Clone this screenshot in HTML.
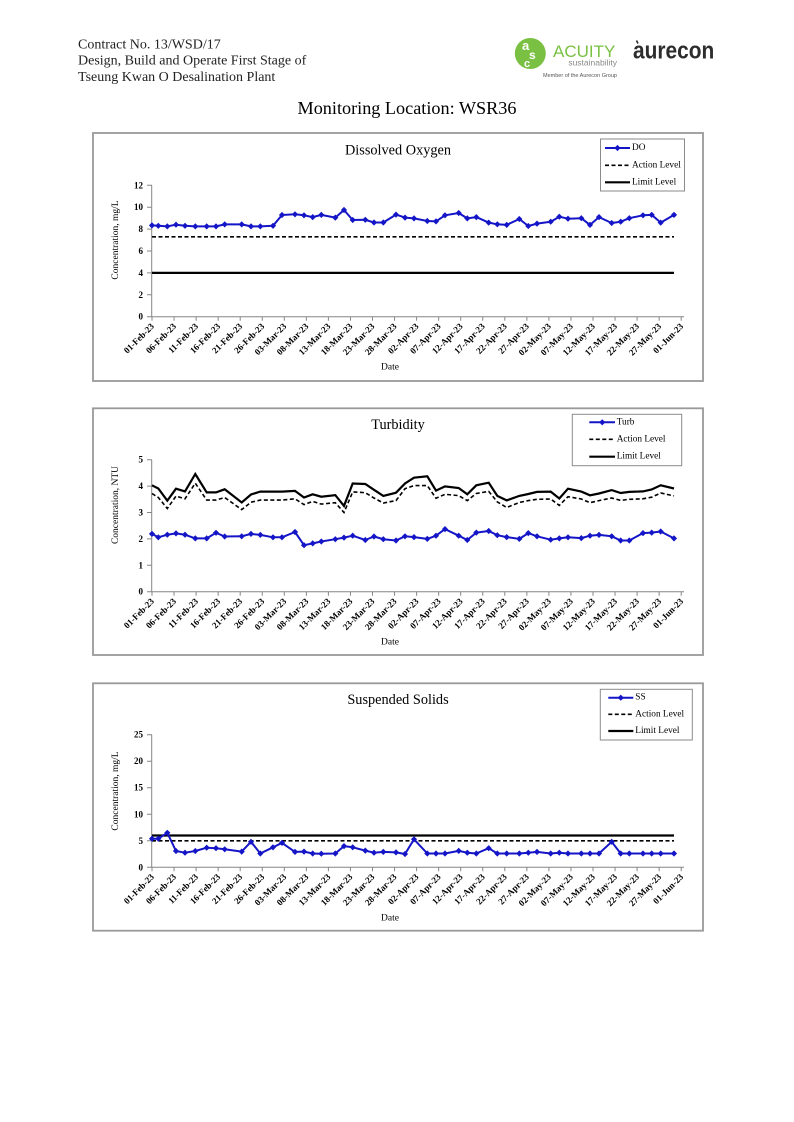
<!DOCTYPE html>
<html>
<head>
<meta charset="utf-8">
<style>
html,body{margin:0;padding:0;background:#fff;}
svg{display:block;}
text{font-family:"Liberation Serif",serif;fill:#000;}
.hd{font-size:14px;fill:#222;}
.xl{font-size:9px;font-weight:bold;}
.yl{font-size:9px;font-weight:bold;}
.lg{font-size:9.3px;}
.ti{font-size:14.3px;}
.at{font-size:9.5px;}
.ax{fill:none;stroke:#868686;stroke-width:1;}
.bx{fill:#fff;stroke:#999;stroke-width:1.8;}
.lb{fill:#fff;stroke:#8a8a8a;stroke-width:1;}
.ser{fill:none;stroke:#1515c8;stroke-width:2;stroke-linejoin:round;marker-start:url(#dm);marker-mid:url(#dm);marker-end:url(#dm);}
.act{fill:none;stroke:#000;stroke-width:1.6;stroke-dasharray:4 2.5;}
.lim{fill:none;stroke:#000;stroke-width:2.2;}
</style>
</head>
<body>
<svg width="794" height="1122" viewBox="0 0 794 1122" xmlns="http://www.w3.org/2000/svg">
<defs>
<marker id="dm" markerWidth="8" markerHeight="8" refX="4" refY="4" markerUnits="userSpaceOnUse"><path d="M4 0.9L7.1 4L4 7.1L0.9 4Z" fill="#1515c8"/></marker>
</defs>
<rect width="794" height="1122" fill="#fff"/>

<!-- Header -->
<text class="hd" x="78" y="48.5">Contract No. 13/WSD/17</text>
<text class="hd" x="78" y="64.5">Design, Build and Operate First Stage of</text>
<text class="hd" x="78" y="81">Tseung Kwan O Desalination Plant</text>

<circle cx="530.3" cy="53.5" r="15.5" fill="#7ac143"/>
<text x="522" y="50" style="font-family:'Liberation Sans',sans-serif;font-size:13px;font-weight:bold;fill:#fff">a</text>
<text x="529" y="59" style="font-family:'Liberation Sans',sans-serif;font-size:12px;font-weight:bold;fill:#fff">s</text>
<text x="524" y="67" style="font-family:'Liberation Sans',sans-serif;font-size:11px;font-weight:bold;fill:#fff">c</text>
<text x="553" y="57" style="font-family:'Liberation Sans',sans-serif;font-size:17px;fill:#7ac143">ACUITY</text>
<text x="617" y="65.5" text-anchor="end" style="font-family:'Liberation Sans',sans-serif;font-size:8.5px;fill:#8a8a8a">sustainability</text>
<text x="543" y="77" style="font-family:'Liberation Sans',sans-serif;font-size:5.5px;fill:#555">Member of the Aurecon Group</text>
<text transform="translate(633,58.5) scale(0.87,1)" style="font-family:'Liberation Sans',sans-serif;font-size:24px;font-weight:bold;fill:#2d2d2d">aurecon</text>
<path d="M636.5 40.5l1.5 3" stroke="#2d2d2d" stroke-width="1.6"/>

<text x="407" y="114" text-anchor="middle" style="font-size:18.2px">Monitoring Location: WSR36</text>

<!-- ================= Chart 1: Dissolved Oxygen ================= -->
<rect class="bx" x="93" y="133" width="610" height="248"/>
<text class="ti" x="398" y="154.5" text-anchor="middle">Dissolved Oxygen</text>
<path class="ax" d="M151.7 185.3V316.7H684"/>
<path class="ax" d="M147 316.7h5M147 294.8h5M147 272.9h5M147 251h5M147 229.1h5M147 207.2h5M147 185.3h5"/>
<path class="ax" d="M152 316.7v4M174.05 316.7v4M196.1 316.7v4M218.15 316.7v4M240.2 316.7v4M262.25 316.7v4M284.3 316.7v4M306.35 316.7v4M328.4 316.7v4M350.45 316.7v4M372.5 316.7v4M394.55 316.7v4M416.6 316.7v4M438.65 316.7v4M460.7 316.7v4M482.75 316.7v4M504.8 316.7v4M526.85 316.7v4M548.9 316.7v4M570.95 316.7v4M593 316.7v4M615.05 316.7v4M637.1 316.7v4M659.15 316.7v4M681.2 316.7v4"/>
<text class="yl" x="143" y="316.7" dominant-baseline="central" text-anchor="end">0</text>
<text class="yl" x="143" y="294.8" dominant-baseline="central" text-anchor="end">2</text>
<text class="yl" x="143" y="272.9" dominant-baseline="central" text-anchor="end">4</text>
<text class="yl" x="143" y="251" dominant-baseline="central" text-anchor="end">6</text>
<text class="yl" x="143" y="229.1" dominant-baseline="central" text-anchor="end">8</text>
<text class="yl" x="143" y="207.2" dominant-baseline="central" text-anchor="end">10</text>
<text class="yl" x="143" y="185.3" dominant-baseline="central" text-anchor="end">12</text>
<text class="at" transform="translate(116,240) rotate(-90)" text-anchor="middle" dominant-baseline="central">Concentration, mg/L</text>
<text class="at" x="390" y="369.5" text-anchor="middle">Date</text>
<g>
<text class="xl" text-anchor="end" dominant-baseline="central" transform="translate(152.5,324.7) rotate(-45)">01-Feb-23</text>
<text class="xl" text-anchor="end" dominant-baseline="central" transform="translate(174.6,324.7) rotate(-45)">06-Feb-23</text>
<text class="xl" text-anchor="end" dominant-baseline="central" transform="translate(196.6,324.7) rotate(-45)">11-Feb-23</text>
<text class="xl" text-anchor="end" dominant-baseline="central" transform="translate(218.7,324.7) rotate(-45)">16-Feb-23</text>
<text class="xl" text-anchor="end" dominant-baseline="central" transform="translate(240.7,324.7) rotate(-45)">21-Feb-23</text>
<text class="xl" text-anchor="end" dominant-baseline="central" transform="translate(262.8,324.7) rotate(-45)">26-Feb-23</text>
<text class="xl" text-anchor="end" dominant-baseline="central" transform="translate(284.8,324.7) rotate(-45)">03-Mar-23</text>
<text class="xl" text-anchor="end" dominant-baseline="central" transform="translate(306.9,324.7) rotate(-45)">08-Mar-23</text>
<text class="xl" text-anchor="end" dominant-baseline="central" transform="translate(328.9,324.7) rotate(-45)">13-Mar-23</text>
<text class="xl" text-anchor="end" dominant-baseline="central" transform="translate(351,324.7) rotate(-45)">18-Mar-23</text>
<text class="xl" text-anchor="end" dominant-baseline="central" transform="translate(373,324.7) rotate(-45)">23-Mar-23</text>
<text class="xl" text-anchor="end" dominant-baseline="central" transform="translate(395.1,324.7) rotate(-45)">28-Mar-23</text>
<text class="xl" text-anchor="end" dominant-baseline="central" transform="translate(417.1,324.7) rotate(-45)">02-Apr-23</text>
<text class="xl" text-anchor="end" dominant-baseline="central" transform="translate(439.2,324.7) rotate(-45)">07-Apr-23</text>
<text class="xl" text-anchor="end" dominant-baseline="central" transform="translate(461.2,324.7) rotate(-45)">12-Apr-23</text>
<text class="xl" text-anchor="end" dominant-baseline="central" transform="translate(483.3,324.7) rotate(-45)">17-Apr-23</text>
<text class="xl" text-anchor="end" dominant-baseline="central" transform="translate(505.3,324.7) rotate(-45)">22-Apr-23</text>
<text class="xl" text-anchor="end" dominant-baseline="central" transform="translate(527.4,324.7) rotate(-45)">27-Apr-23</text>
<text class="xl" text-anchor="end" dominant-baseline="central" transform="translate(549.4,324.7) rotate(-45)">02-May-23</text>
<text class="xl" text-anchor="end" dominant-baseline="central" transform="translate(571.5,324.7) rotate(-45)">07-May-23</text>
<text class="xl" text-anchor="end" dominant-baseline="central" transform="translate(593.5,324.7) rotate(-45)">12-May-23</text>
<text class="xl" text-anchor="end" dominant-baseline="central" transform="translate(615.6,324.7) rotate(-45)">17-May-23</text>
<text class="xl" text-anchor="end" dominant-baseline="central" transform="translate(637.6,324.7) rotate(-45)">22-May-23</text>
<text class="xl" text-anchor="end" dominant-baseline="central" transform="translate(659.7,324.7) rotate(-45)">27-May-23</text>
<text class="xl" text-anchor="end" dominant-baseline="central" transform="translate(681.7,324.7) rotate(-45)">01-Jun-23</text>
</g>
<path class="lim" d="M152 272.9H674"/>
<path class="act" d="M152 236.8H674"/>
<polyline class="ser" points="152,225.4 158.3,225.8 167.3,226.4 176,224.7 185,225.8 195.3,226.4 206.7,226.4 216,226.4 224.7,224.4 241.7,224.4 251,226.4 260.3,226.4 273,225.8 282,215.0 295,214.3 304,215.3 312.7,217.1 321.3,214.9 335.3,217.6 344,210.0 352.7,220.0 365.3,219.8 374,222.5 383.3,222.5 396,214.6 405,217.6 414,218.4 427.3,221.0 436,221.4 445,215.3 458.7,213.0 467.3,218.4 476.3,217.1 488.7,222.6 497.3,224.3 506.7,224.9 519.3,219.0 528.3,226.0 537,223.6 550.7,221.7 559.3,216.7 568,218.7 581.3,218.2 590,224.9 599,217.1 611.7,223.0 620.7,221.7 629.3,218.2 643,215.3 651.7,214.9 660.7,222.6 674,214.9"/>
<rect class="lb" x="600.5" y="139" width="84" height="52"/>
<polyline points="605,148 617.5,148 630,148" style="fill:none;stroke:#1515c8;stroke-width:2;marker-mid:url(#dm)"/>
<path class="act" d="M605 165.3H630"/>
<path class="lim" d="M605 182.3H630"/>
<text class="lg" x="632" y="148" dominant-baseline="central">DO</text>
<text class="lg" x="632" y="165.3" dominant-baseline="central">Action Level</text>
<text class="lg" x="632" y="182.3" dominant-baseline="central">Limit Level</text>

<!-- ================= Chart 2: Turbidity ================= -->
<rect class="bx" x="93" y="408.3" width="610" height="246.7"/>
<text class="ti" x="398" y="429" text-anchor="middle">Turbidity</text>
<path class="ax" d="M151.7 459.7V591.7H684"/>
<path class="ax" d="M147 591.7h5M147 565.3h5M147 538.9h5M147 512.5h5M147 486.1h5M147 459.7h5"/>
<path class="ax" d="M152 591.7v4M174.05 591.7v4M196.1 591.7v4M218.15 591.7v4M240.2 591.7v4M262.25 591.7v4M284.3 591.7v4M306.35 591.7v4M328.4 591.7v4M350.45 591.7v4M372.5 591.7v4M394.55 591.7v4M416.6 591.7v4M438.65 591.7v4M460.7 591.7v4M482.75 591.7v4M504.8 591.7v4M526.85 591.7v4M548.9 591.7v4M570.95 591.7v4M593 591.7v4M615.05 591.7v4M637.1 591.7v4M659.15 591.7v4M681.2 591.7v4"/>
<text class="yl" x="143" y="591.7" dominant-baseline="central" text-anchor="end">0</text>
<text class="yl" x="143" y="565.3" dominant-baseline="central" text-anchor="end">1</text>
<text class="yl" x="143" y="538.9" dominant-baseline="central" text-anchor="end">2</text>
<text class="yl" x="143" y="512.5" dominant-baseline="central" text-anchor="end">3</text>
<text class="yl" x="143" y="486.1" dominant-baseline="central" text-anchor="end">4</text>
<text class="yl" x="143" y="459.7" dominant-baseline="central" text-anchor="end">5</text>
<text class="at" transform="translate(116,505) rotate(-90)" text-anchor="middle" dominant-baseline="central">Concentration, NTU</text>
<text class="at" x="390" y="644.5" text-anchor="middle">Date</text>
<g>
<text class="xl" text-anchor="end" dominant-baseline="central" transform="translate(152.5,599.7) rotate(-45)">01-Feb-23</text>
<text class="xl" text-anchor="end" dominant-baseline="central" transform="translate(174.6,599.7) rotate(-45)">06-Feb-23</text>
<text class="xl" text-anchor="end" dominant-baseline="central" transform="translate(196.6,599.7) rotate(-45)">11-Feb-23</text>
<text class="xl" text-anchor="end" dominant-baseline="central" transform="translate(218.7,599.7) rotate(-45)">16-Feb-23</text>
<text class="xl" text-anchor="end" dominant-baseline="central" transform="translate(240.7,599.7) rotate(-45)">21-Feb-23</text>
<text class="xl" text-anchor="end" dominant-baseline="central" transform="translate(262.8,599.7) rotate(-45)">26-Feb-23</text>
<text class="xl" text-anchor="end" dominant-baseline="central" transform="translate(284.8,599.7) rotate(-45)">03-Mar-23</text>
<text class="xl" text-anchor="end" dominant-baseline="central" transform="translate(306.9,599.7) rotate(-45)">08-Mar-23</text>
<text class="xl" text-anchor="end" dominant-baseline="central" transform="translate(328.9,599.7) rotate(-45)">13-Mar-23</text>
<text class="xl" text-anchor="end" dominant-baseline="central" transform="translate(351,599.7) rotate(-45)">18-Mar-23</text>
<text class="xl" text-anchor="end" dominant-baseline="central" transform="translate(373,599.7) rotate(-45)">23-Mar-23</text>
<text class="xl" text-anchor="end" dominant-baseline="central" transform="translate(395.1,599.7) rotate(-45)">28-Mar-23</text>
<text class="xl" text-anchor="end" dominant-baseline="central" transform="translate(417.1,599.7) rotate(-45)">02-Apr-23</text>
<text class="xl" text-anchor="end" dominant-baseline="central" transform="translate(439.2,599.7) rotate(-45)">07-Apr-23</text>
<text class="xl" text-anchor="end" dominant-baseline="central" transform="translate(461.2,599.7) rotate(-45)">12-Apr-23</text>
<text class="xl" text-anchor="end" dominant-baseline="central" transform="translate(483.3,599.7) rotate(-45)">17-Apr-23</text>
<text class="xl" text-anchor="end" dominant-baseline="central" transform="translate(505.3,599.7) rotate(-45)">22-Apr-23</text>
<text class="xl" text-anchor="end" dominant-baseline="central" transform="translate(527.4,599.7) rotate(-45)">27-Apr-23</text>
<text class="xl" text-anchor="end" dominant-baseline="central" transform="translate(549.4,599.7) rotate(-45)">02-May-23</text>
<text class="xl" text-anchor="end" dominant-baseline="central" transform="translate(571.5,599.7) rotate(-45)">07-May-23</text>
<text class="xl" text-anchor="end" dominant-baseline="central" transform="translate(593.5,599.7) rotate(-45)">12-May-23</text>
<text class="xl" text-anchor="end" dominant-baseline="central" transform="translate(615.6,599.7) rotate(-45)">17-May-23</text>
<text class="xl" text-anchor="end" dominant-baseline="central" transform="translate(637.6,599.7) rotate(-45)">22-May-23</text>
<text class="xl" text-anchor="end" dominant-baseline="central" transform="translate(659.7,599.7) rotate(-45)">27-May-23</text>
<text class="xl" text-anchor="end" dominant-baseline="central" transform="translate(681.7,599.7) rotate(-45)">01-Jun-23</text>
</g>
<polyline class="lim" points="152,485.3 158.3,488.5 167.3,500.6 176,488.7 185,491.4 195.3,474.0 206.7,492.4 216,492.4 224.7,489.3 241.7,502.5 251,494.5 260.3,491.6 273,491.6 282,491.6 295,490.9 304,497.5 312.7,494.3 321.3,496.7 335.3,495.1 344,505.9 352.7,483.5 365.3,484.0 374,489.8 383.3,495.9 396,492.7 405,483.5 414,477.7 427.3,476.3 436,490.6 445,486.4 458.7,488.0 467.3,494.3 476.3,485.3 488.7,482.7 497.3,495.9 506.7,500.4 519.3,495.9 528.3,494.0 537,491.9 550.7,491.6 559.3,498.5 568,488.7 581.3,491.6 590,495.3 599,493.5 611.7,490.1 620.7,493.0 629.3,491.9 643,491.4 651.7,489.5 660.7,485.3 674,488.5"/>
<polyline class="act" points="152,493.5 158.3,497.5 167.3,508.5 176,496.1 185,498.8 195.3,483.2 206.7,500.1 216,500.1 224.7,497.5 241.7,509.6 251,502.2 260.3,500.1 273,500.1 282,500.1 295,498.8 304,504.6 312.7,501.4 321.3,504.1 335.3,502.7 344,512.5 352.7,491.9 365.3,492.7 374,498.0 383.3,503.0 396,500.6 405,488.7 414,485.6 427.3,485.6 436,498.2 445,494.3 458.7,495.6 467.3,500.6 476.3,493.5 488.7,491.4 497.3,501.9 506.7,507.5 519.3,502.5 528.3,500.6 537,499.3 550.7,499.0 559.3,505.4 568,496.7 581.3,499.0 590,502.7 599,500.6 611.7,498.0 620.7,500.4 629.3,499.3 643,498.8 651.7,497.2 660.7,493.0 674,495.9"/>
<polyline class="ser" points="152,533.9 158.3,537.3 167.3,534.7 176,533.4 185,534.7 195.3,538.4 206.7,538.4 216,532.8 224.7,536.5 241.7,536.3 251,533.9 260.3,534.9 273,537.3 282,537.3 295,532.0 304,545.2 312.7,543.4 321.3,541.5 335.3,539.2 344,537.6 352.7,535.7 365.3,540.0 374,536.5 383.3,539.2 396,540.5 405,536.3 414,537.1 427.3,538.9 436,535.7 445,529.1 458.7,535.7 467.3,540.0 476.3,532.6 488.7,531.0 497.3,535.2 506.7,537.1 519.3,538.9 528.3,533.1 537,536.3 550.7,539.7 559.3,538.4 568,537.3 581.3,538.1 590,535.7 599,534.9 611.7,536.3 620.7,540.5 629.3,540.5 643,533.1 651.7,532.6 660.7,531.5 674,538.4"/>
<rect class="lb" x="572.3" y="414.3" width="109.4" height="51.4"/>
<polyline points="589.3,422.3 602.2,422.3 615,422.3" style="fill:none;stroke:#1515c8;stroke-width:2;marker-mid:url(#dm)"/>
<path class="act" d="M589.3 439.3H615"/>
<path class="lim" d="M589.3 456.7H615"/>
<text class="lg" x="616.7" y="422.3" dominant-baseline="central">Turb</text>
<text class="lg" x="616.7" y="439.3" dominant-baseline="central">Action Level</text>
<text class="lg" x="616.7" y="456.7" dominant-baseline="central">Limit Level</text>

<!-- ================= Chart 3: Suspended Solids ================= -->
<rect class="bx" x="93" y="683.3" width="610" height="247.4"/>
<text class="ti" x="398" y="704" text-anchor="middle">Suspended Solids</text>
<path class="ax" d="M151.7 734.7V867.3H684"/>
<path class="ax" d="M147 867.3h5M147 840.8h5M147 814.3h5M147 787.7h5M147 761.2h5M147 734.7h5"/>
<path class="ax" d="M152 867.3v4M174.05 867.3v4M196.1 867.3v4M218.15 867.3v4M240.2 867.3v4M262.25 867.3v4M284.3 867.3v4M306.35 867.3v4M328.4 867.3v4M350.45 867.3v4M372.5 867.3v4M394.55 867.3v4M416.6 867.3v4M438.65 867.3v4M460.7 867.3v4M482.75 867.3v4M504.8 867.3v4M526.85 867.3v4M548.9 867.3v4M570.95 867.3v4M593 867.3v4M615.05 867.3v4M637.1 867.3v4M659.15 867.3v4M681.2 867.3v4"/>
<text class="yl" x="143" y="867.3" dominant-baseline="central" text-anchor="end">0</text>
<text class="yl" x="143" y="840.8" dominant-baseline="central" text-anchor="end">5</text>
<text class="yl" x="143" y="814.3" dominant-baseline="central" text-anchor="end">10</text>
<text class="yl" x="143" y="787.7" dominant-baseline="central" text-anchor="end">15</text>
<text class="yl" x="143" y="761.2" dominant-baseline="central" text-anchor="end">20</text>
<text class="yl" x="143" y="734.7" dominant-baseline="central" text-anchor="end">25</text>
<text class="at" transform="translate(116,791) rotate(-90)" text-anchor="middle" dominant-baseline="central">Concentration, mg/L</text>
<text class="at" x="390" y="920.5" text-anchor="middle">Date</text>
<g>
<text class="xl" text-anchor="end" dominant-baseline="central" transform="translate(152.5,875.3) rotate(-45)">01-Feb-23</text>
<text class="xl" text-anchor="end" dominant-baseline="central" transform="translate(174.6,875.3) rotate(-45)">06-Feb-23</text>
<text class="xl" text-anchor="end" dominant-baseline="central" transform="translate(196.6,875.3) rotate(-45)">11-Feb-23</text>
<text class="xl" text-anchor="end" dominant-baseline="central" transform="translate(218.7,875.3) rotate(-45)">16-Feb-23</text>
<text class="xl" text-anchor="end" dominant-baseline="central" transform="translate(240.7,875.3) rotate(-45)">21-Feb-23</text>
<text class="xl" text-anchor="end" dominant-baseline="central" transform="translate(262.8,875.3) rotate(-45)">26-Feb-23</text>
<text class="xl" text-anchor="end" dominant-baseline="central" transform="translate(284.8,875.3) rotate(-45)">03-Mar-23</text>
<text class="xl" text-anchor="end" dominant-baseline="central" transform="translate(306.9,875.3) rotate(-45)">08-Mar-23</text>
<text class="xl" text-anchor="end" dominant-baseline="central" transform="translate(328.9,875.3) rotate(-45)">13-Mar-23</text>
<text class="xl" text-anchor="end" dominant-baseline="central" transform="translate(351,875.3) rotate(-45)">18-Mar-23</text>
<text class="xl" text-anchor="end" dominant-baseline="central" transform="translate(373,875.3) rotate(-45)">23-Mar-23</text>
<text class="xl" text-anchor="end" dominant-baseline="central" transform="translate(395.1,875.3) rotate(-45)">28-Mar-23</text>
<text class="xl" text-anchor="end" dominant-baseline="central" transform="translate(417.1,875.3) rotate(-45)">02-Apr-23</text>
<text class="xl" text-anchor="end" dominant-baseline="central" transform="translate(439.2,875.3) rotate(-45)">07-Apr-23</text>
<text class="xl" text-anchor="end" dominant-baseline="central" transform="translate(461.2,875.3) rotate(-45)">12-Apr-23</text>
<text class="xl" text-anchor="end" dominant-baseline="central" transform="translate(483.3,875.3) rotate(-45)">17-Apr-23</text>
<text class="xl" text-anchor="end" dominant-baseline="central" transform="translate(505.3,875.3) rotate(-45)">22-Apr-23</text>
<text class="xl" text-anchor="end" dominant-baseline="central" transform="translate(527.4,875.3) rotate(-45)">27-Apr-23</text>
<text class="xl" text-anchor="end" dominant-baseline="central" transform="translate(549.4,875.3) rotate(-45)">02-May-23</text>
<text class="xl" text-anchor="end" dominant-baseline="central" transform="translate(571.5,875.3) rotate(-45)">07-May-23</text>
<text class="xl" text-anchor="end" dominant-baseline="central" transform="translate(593.5,875.3) rotate(-45)">12-May-23</text>
<text class="xl" text-anchor="end" dominant-baseline="central" transform="translate(615.6,875.3) rotate(-45)">17-May-23</text>
<text class="xl" text-anchor="end" dominant-baseline="central" transform="translate(637.6,875.3) rotate(-45)">22-May-23</text>
<text class="xl" text-anchor="end" dominant-baseline="central" transform="translate(659.7,875.3) rotate(-45)">27-May-23</text>
<text class="xl" text-anchor="end" dominant-baseline="central" transform="translate(681.7,875.3) rotate(-45)">01-Jun-23</text>
</g>
<path class="lim" d="M152 835.5H674"/>
<path class="act" d="M152 840.8H674"/>
<polyline class="ser" points="152,838.7 158.3,838.7 167.3,832.8 176,851.0 185,852.7 195.3,851.0 206.7,847.7 216,848.2 224.7,849.3 241.7,851.6 251,841.8 260.3,853.5 273,847.3 282,842.9 295,851.9 304,851.6 312.7,853.5 321.3,853.7 335.3,853.5 344,846.1 352.7,847.3 365.3,850.6 374,852.7 383.3,851.9 396,852.4 405,854.0 414,839.3 427.3,853.5 436,853.5 445,853.5 458.7,850.9 467.3,852.7 476.3,853.5 488.7,848.2 497.3,853.5 506.7,853.5 519.3,853.5 528.3,852.7 537,851.9 550.7,853.5 559.3,852.7 568,853.5 581.3,853.5 590,853.5 599,853.5 611.7,841.8 620.7,853.5 629.3,853.5 643,853.5 651.7,853.5 660.7,853.5 674,853.5"/>
<rect class="lb" x="600.3" y="689.3" width="92" height="50.7"/>
<polyline points="608.3,697.7 620.8,697.7 633.3,697.7" style="fill:none;stroke:#1515c8;stroke-width:2;marker-mid:url(#dm)"/>
<path class="act" d="M608.3 714.3H633.3"/>
<path class="lim" d="M608.3 731H633.3"/>
<text class="lg" x="635.3" y="697.7" dominant-baseline="central">SS</text>
<text class="lg" x="635.3" y="714.3" dominant-baseline="central">Action Level</text>
<text class="lg" x="635.3" y="731" dominant-baseline="central">Limit Level</text>
</svg>
</body>
</html>
